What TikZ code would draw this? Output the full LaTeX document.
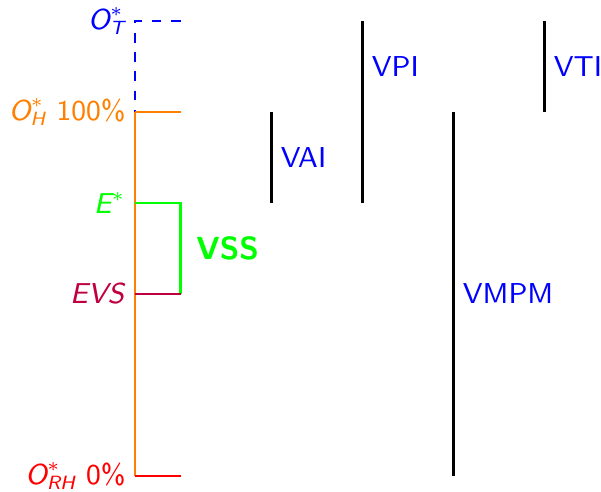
\documentclass[tikz,border=0pt]{standalone}
\usepackage{amsmath}
\usepackage{tikz}
\usetikzlibrary{positioning, calc}

\begin{document}
\begin{tikzpicture}[font=\sffamily\fontsize{9}{11}\selectfont, line width=0.7pt, inner xsep=2.6pt]
          \useasboundingbox (-1.484,-0.176) rectangle (5.121,5.231);
          % levels on the axis
          \coordinate (rh) at (0,0);
          \coordinate (evs) at (0,2);
          \coordinate (e) at (0,3);
          \coordinate (oh) at (0,4);
          \coordinate (ot) at (0,5);
          \coordinate (rh2) at (0.5,0);
          \coordinate (evs2) at (0.5,2);
          \coordinate (e2) at (0.5,3);
          \coordinate (oh2) at (0.5,4);
          \coordinate (ot2) at (0.5,5);
          \draw[blue, dashed] (ot2) -- (ot) -- (oh);
          \draw[orange, line width=0.9pt] (oh) -- (rh);
          \draw[orange] (oh) -- (oh2);
          \draw[green] (e) -- (e2) -- (evs2);
          \draw[purple] (evs2) -- (evs);
          \draw[red] (rh) -- (rh2);
          \node[blue, left=0pt of ot] (lot) {$\textit{O}^*_{\textit{T}}$};
          \node[orange, left=0pt of oh] (loh) {$\textit{O}^*_{\textit{H}}$ 100\%};
          \node[green, left=0pt of e] (le) {$\textit{E}^*$};
          \node[purple, left=0pt of evs] (levs) {\textit{EVS}};
          \node[red, left=0pt of rh] (lrh) {$\textit{O}^*_{\textit{RH}}$ 0\%};
          \coordinate (vss) at (0.5,2.5);
          \node[green, font=\sffamily\bfseries, right=2pt of vss] (lvss) {VSS};
          % ranges
          \coordinate (vai1) at (1.5,4);
          \coordinate (vai2) at (1.5,3);
          \coordinate (vpi1) at (2.5,5);
          \coordinate (vpi2) at (2.5,3);
          \coordinate (vmpm1) at (3.5,4);
          \coordinate (vmpm2) at (3.5,0);
          \coordinate (vti1) at (4.5,5);
          \coordinate (vti2) at (4.5,4);
          \draw (vai1) -- (vai2);
          \draw (vpi1) -- (vpi2);
          \draw (vmpm1) -- (vmpm2);
          \draw (vti1) -- (vti2);
          \node[blue, right=0pt of $(vai1)!0.5!(vai2)$] (lvai) {VAI};
          \node[blue, right=0pt of $(vpi1)!0.5!(vti2 -| vpi1)$] (lvpi) {VPI};
          \node[blue, right=0pt of $(vmpm1)!0.5!(vmpm2)$] (lvmpm) {VMPM};
          \node[blue, right=0pt of $(vti1)!0.5!(vti2)$] (lvti) {VTI};
        \end{tikzpicture}
\end{document}
